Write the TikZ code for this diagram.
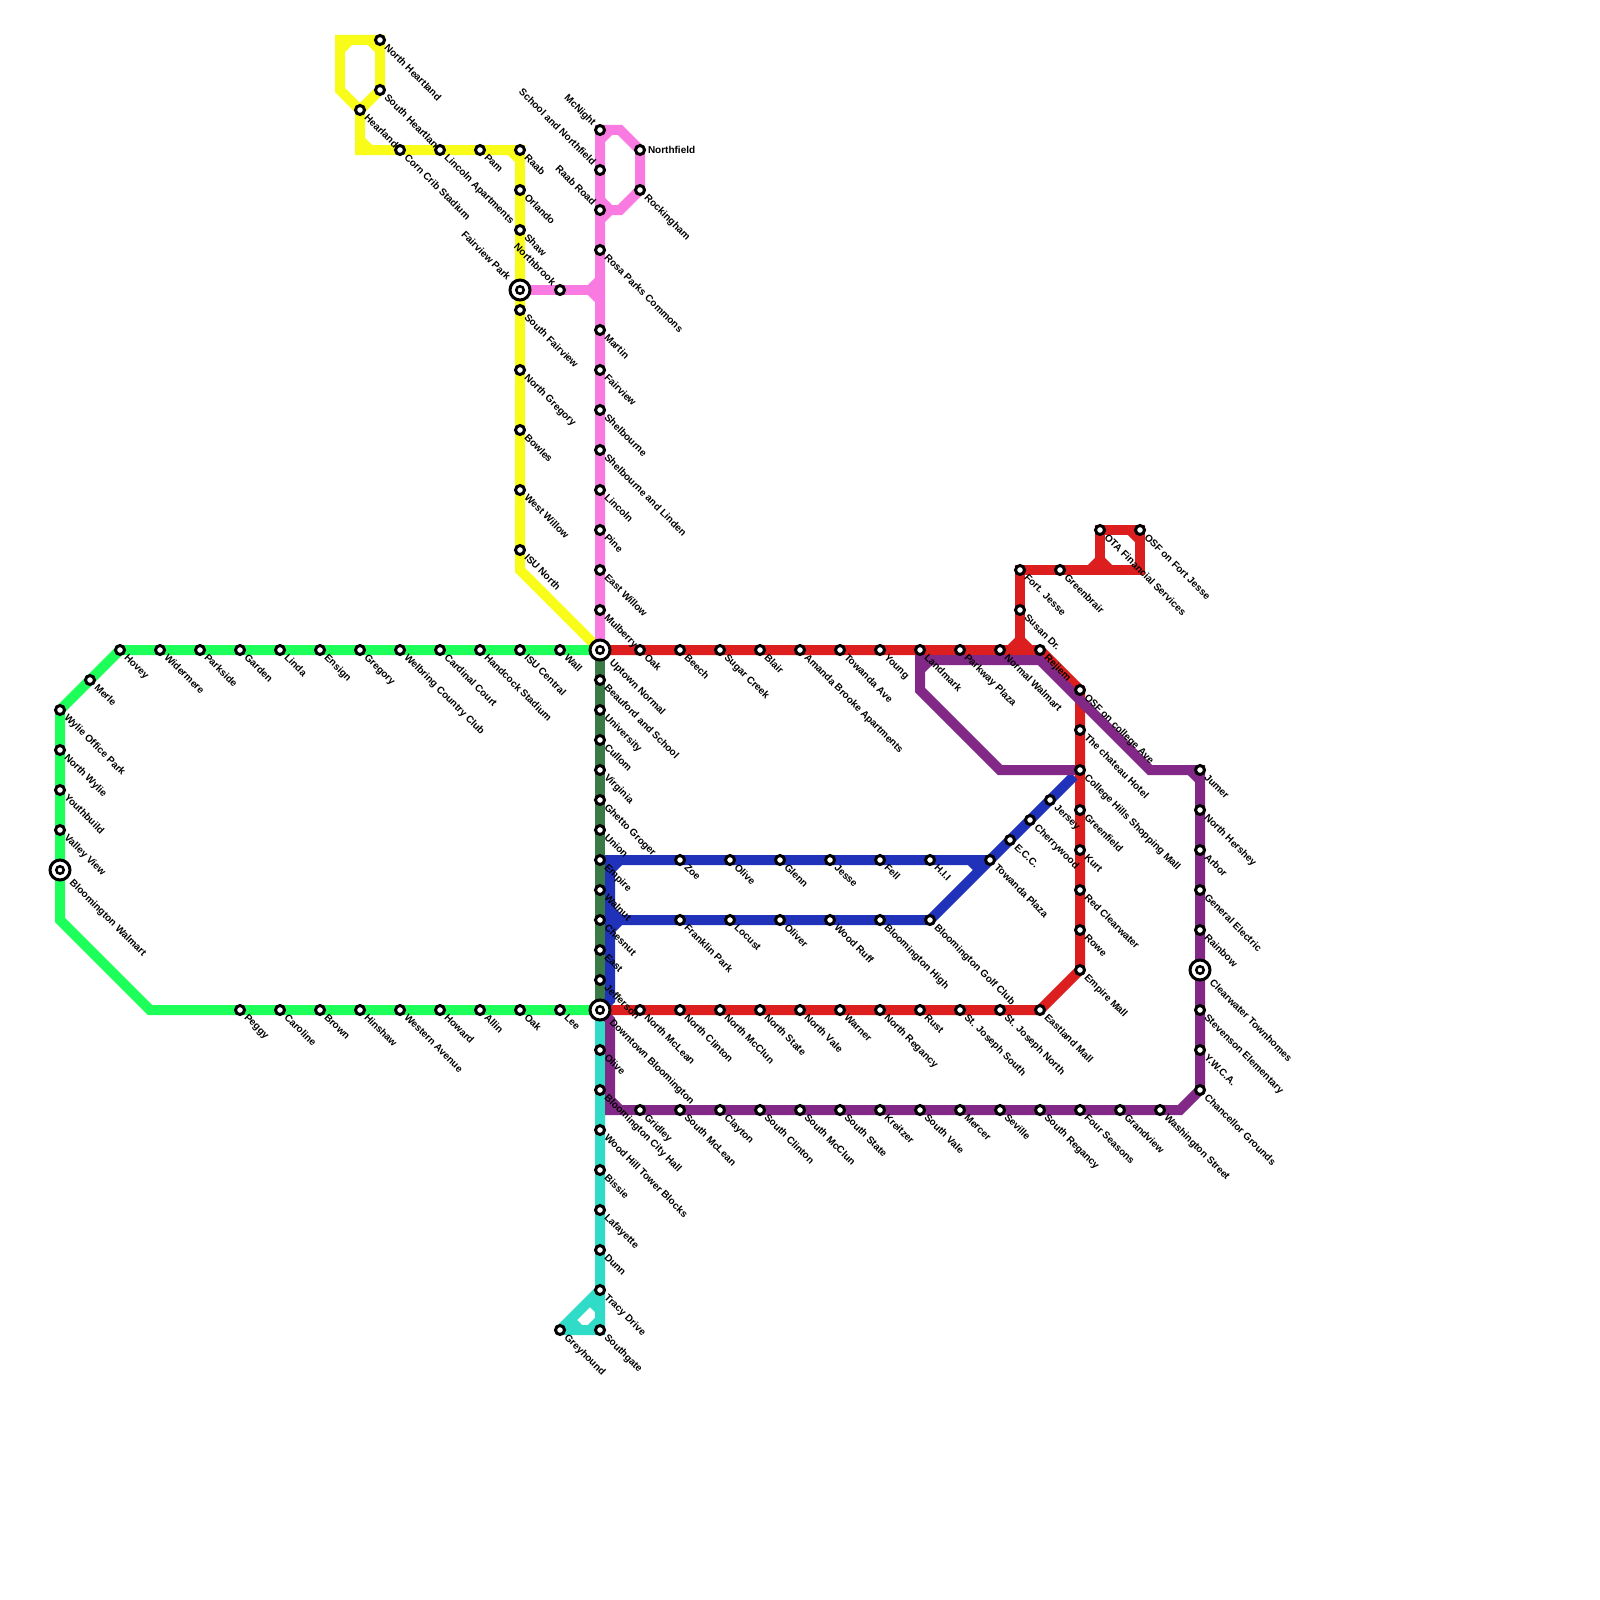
\documentclass[tikz,border=0pt]{standalone}
\usepackage{fontspec}
\setmainfont{Liberation Sans}
\usepackage{xcolor}
\usetikzlibrary{backgrounds}

\definecolor{lineyellow}{RGB}{249,252,24}
\definecolor{linepink}{RGB}{249,122,224}
\definecolor{linegreen}{RGB}{29,255,89}
\definecolor{linedark}{RGB}{58,122,70}
\definecolor{linered}{RGB}{220,30,30}
\definecolor{lineblue}{RGB}{32,50,185}
\definecolor{linepurple}{RGB}{130,40,135}
\definecolor{lineteal}{RGB}{48,220,200}

\tikzset{
  lbl/.style={rotate=-45, anchor=west, inner sep=0pt, outer sep=2.5pt, text height=8pt, text depth=2pt,
    font=\fontsize{10}{10}\selectfont\bfseries},
  hublbl/.style={lbl, outer sep=4.5pt},
  stop/.style={circle, draw=black, fill=white, line width=3pt, minimum size=9pt, inner sep=0pt},
  stn/.style={stop, label={[lbl]-45:#1}},
  stnleft/.style={stop, label={[lbl, anchor=east]135:#1}},
  bigstop/.style={stop, minimum size=20pt, path picture={
    \draw[line width=2.5pt] (path picture bounding box.center) circle (3.75pt);}},
  hub/.style={bigstop, label={[hublbl]-45:#1}},
  hubleft/.style={bigstop, label={[hublbl, anchor=east]135:#1}},
  metro/.style={line width=10pt, miter limit=1.5},
}

\begin{document}
\begin{tikzpicture}[x=1pt, y=-1pt]
        \useasboundingbox (0,0) rectangle (1600,1600);

        % Interchanges
        \node[hub={Uptown Normal}] (uptown) at (600,650) {};
        \node[hub={Downtown Bloomington}] (downtown) at (600,1010) {};
        \node[hub={Bloomington Walmart}] (walmart) at (60,870) {};
        \node[hubleft={Fairview Park}] (fairview) at (520,290) {};
        \node[hub={Clearwater Townhomes}] (clearwater) at (1200,970) {};

        % Green line, upper row
        \node[stn=Hovey] (G1) at (120,650) {};
        \node[stn=Merle] (G2) at (90,680) {};
        \node[stn={Wylie Office Park}] (G3) at (60,710) {};
        \node[stn={North Wylie}] (G4) at (60,750) {};
        \node[stn=Youthbuild] (G5) at (60,790) {};
        \node[stn={Valley View}] (G6) at (60,830) {};
        \node[stn=Widermere] (G7) at (160,650) {};
        \node[stn=Parkside] (G8) at (200,650) {};
        \node[stn=Garden] (G9) at (240,650) {};
        \node[stn=Linda] (G10) at (280,650) {};
        \node[stn=Ensign] (G11) at (320,650) {};
        \node[stn=Gregory] (G12) at (360,650) {};
        \node[stn={Welbring Country Club}] (G13) at (400,650) {};
        \node[stn={Cardinal Court}] (G14) at (440,650) {};
        \node[stn={Handcock Stadium}] (G15) at (480,650) {};
        \node[stn={ISU Central}] (G16) at (520,650) {};
        \node[stn=Wall] (G17) at (560,650) {};

        % Green line, lower row
        \node[stn=Peggy] (G18) at (240,1010) {};
        \node[stn=Caroline] (G19) at (280,1010) {};
        \node[stn=Brown] (G20) at (320,1010) {};
        \node[stn=Hinshaw] (G21) at (360,1010) {};
        \node[stn={Western Avenue}] (G22) at (400,1010) {};
        \node[stn=Howard] (G23) at (440,1010) {};
        \node[stn=Allin] (G24) at (480,1010) {};
        \node[stn=Oak] (G25) at (520,1010) {};
        \node[stn=Lee] (G26) at (560,1010) {};

        % Yellow line
        \node[stn=Hearland] (Y1) at (360,110) {};
        \node[stn={North Heartland}] (Y2) at (380,40) {};
        \node[stn={South Heartland}] (Y3) at (380,90) {};
        \node[stn={Corn Crib Stadium}] (Y4) at (400,150) {};
        \node[stn={Lincoln Apartments}] (Y5) at (440,150) {};
        \node[stn=Pam] (Y6) at (480,150) {};
        \node[stn=Raab] (Y7) at (520,150) {};
        \node[stn=Orlando] (Y8) at (520,190) {};
        \node[stn=Shaw] (Y9) at (520,230) {};
        \node[stn={South Fairview}] (Y10) at (520,310) {};
        \node[stn={North Gregory}] (Y11) at (520,370) {};
        \node[stn=Bowles] (Y12) at (520,430) {};
        \node[stn={West Willow}] (Y13) at (520,490) {};
        \node[stn={ISU North}] (Y14) at (520,550) {};

        % Pink line
        \node[stnleft=McNight] (P1) at (600,130) {};
        \node[stnleft={School and Northfield}] (P2) at (600,170) {};
        \node[stnleft={Raab Road}] (P3) at (600,210) {};
        \node[stop, label={[inner sep=0pt, outer sep=2pt, font=\fontsize{10}{10}\selectfont\bfseries]0:Northfield}] (P4) at (640,150) {};
        \node[stn=Rockingham] (P5) at (640,190) {};
        \node[stn={Rosa Parks Commons}] (P6) at (600,250) {};
        \node[stnleft=Northbrook] (P7) at (560,290) {};
        \node[stn=Martin] (P8) at (600,330) {};
        \node[stn=Fairview] (P9) at (600,370) {};
        \node[stn=Shelbourne] (P10) at (600,410) {};
        \node[stn={Shelbourne and Linden}] (P11) at (600,450) {};
        \node[stn=Lincoln] (P12) at (600,490) {};
        \node[stn=Pine] (P13) at (600,530) {};
        \node[stn={East Willow}] (P14) at (600,570) {};
        \node[stn=Mulberry] (P15) at (600,610) {};

        % Dark green line
        \node[stn={Beauford and School}] (D1) at (600,680) {};
        \node[stn=University] (D2) at (600,710) {};
        \node[stn=Cullom] (D3) at (600,740) {};
        \node[stn=Virginia] (D4) at (600,770) {};
        \node[stn={Ghetto Groger}] (D5) at (600,800) {};
        \node[stn=Union] (D6) at (600,830) {};
        \node[stn=Empire] (D7) at (600,860) {};
        \node[stn=Walnut] (D8) at (600,890) {};
        \node[stn=Chesnut] (D9) at (600,920) {};
        \node[stn=East] (D10) at (600,950) {};
        \node[stn=Jefferson] (D11) at (600,980) {};

        % Red line, upper row
        \node[stn=Oak] (R1) at (640,650) {};
        \node[stn=Beech] (R2) at (680,650) {};
        \node[stn={Sugar Creek}] (R3) at (720,650) {};
        \node[stn=Blair] (R4) at (760,650) {};
        \node[stn={Amanda Brooke Apartments}] (R5) at (800,650) {};
        \node[stn={Towanda Ave}] (R6) at (840,650) {};
        \node[stn=Young] (R7) at (880,650) {};
        \node[stn=Landmark] (R8) at (920,650) {};
        \node[stn={Parkway Plaza}] (R9) at (960,650) {};
        \node[stn={Normal Walmart}] (R10) at (1000,650) {};
        \node[stn=Rejiem] (R11) at (1040,650) {};
        \node[stn={Fort. Jesse}] (R12) at (1020,570) {};
        \node[stn={Susan Dr.}] (R13) at (1020,610) {};
        \node[stn=Greenbrair] (R14) at (1060,570) {};
        \node[stn={OTA Financial Services}] (R15) at (1100,530) {};
        \node[stn={OSF on Fort Jesse}] (R16) at (1140,530) {};
        \node[stn={OSF on college Ave}] (R17) at (1080,690) {};

        % Red line, right side and lower row
        \node[stn={The chateau Hotel}] (R18) at (1080,730) {};
        \node[stn={College Hills Shopping Mall}] (R19) at (1080,770) {};
        \node[stn=Greenfield] (R20) at (1080,810) {};
        \node[stn=Kurt] (R21) at (1080,850) {};
        \node[stn={Red Clearwater}] (R22) at (1080,890) {};
        \node[stn=Rowe] (R23) at (1080,930) {};
        \node[stn={Empire Mall}] (R24) at (1080,970) {};
        \node[stn={Eastland Mall}] (R25) at (1040,1010) {};
        \node[stn={North McLean}] (R26) at (640,1010) {};
        \node[stn={North Clinton}] (R27) at (680,1010) {};
        \node[stn={North McClun}] (R28) at (720,1010) {};
        \node[stn={North State}] (R29) at (760,1010) {};
        \node[stn={North Vale}] (R30) at (800,1010) {};
        \node[stn=Warner] (R31) at (840,1010) {};
        \node[stn={North Regancy}] (R32) at (880,1010) {};
        \node[stn=Rust] (R33) at (920,1010) {};
        \node[stn={St. Joseph South}] (R34) at (960,1010) {};
        \node[stn={St. Joseph North}] (R35) at (1000,1010) {};

        % Blue line
        \node[stn=Zoe] (B1) at (680,860) {};
        \node[stn=Olive] (B2) at (730,860) {};
        \node[stn=Glenn] (B3) at (780,860) {};
        \node[stn=Jesse] (B4) at (830,860) {};
        \node[stn=Fell] (B5) at (880,860) {};
        \node[stn={H.I.I}] (B6) at (930,860) {};
        \node[stn={Towanda Plaza}] (B7) at (990,860) {};
        \node[stn={E.C.C.}] (B8) at (1010,840) {};
        \node[stn=Cherrywood] (B9) at (1030,820) {};
        \node[stn=Jersey] (B10) at (1050,800) {};
        \node[stn={Franklin Park}] (B11) at (680,920) {};
        \node[stn=Locust] (B12) at (730,920) {};
        \node[stn=Oliver] (B13) at (780,920) {};
        \node[stn={Wood Ruff}] (B14) at (830,920) {};
        \node[stn={Bloomington High}] (B15) at (880,920) {};
        \node[stn={Bloomington Golf Club}] (B16) at (930,920) {};

        % Purple line
        \node[stn=Gridley] (V1) at (640,1110) {};
        \node[stn={South McLean}] (V2) at (680,1110) {};
        \node[stn=Clayton] (V3) at (720,1110) {};
        \node[stn={South Clinton}] (V4) at (760,1110) {};
        \node[stn={South McClun}] (V5) at (800,1110) {};
        \node[stn={South State}] (V6) at (840,1110) {};
        \node[stn=Kreitzer] (V7) at (880,1110) {};
        \node[stn={South Vale}] (V8) at (920,1110) {};
        \node[stn=Mercer] (V9) at (960,1110) {};
        \node[stn=Seville] (V10) at (1000,1110) {};
        \node[stn={South Regancy}] (V11) at (1040,1110) {};
        \node[stn={Four Seasons}] (V12) at (1080,1110) {};
        \node[stn=Grandview] (V13) at (1120,1110) {};
        \node[stn={Washington Street}] (V14) at (1160,1110) {};
        \node[stn={Chancellor Grounds}] (V15) at (1200,1090) {};
        \node[stn={Y.W.C.A.}] (V16) at (1200,1050) {};
        \node[stn={Stevenson Elementary}] (V17) at (1200,1010) {};
        \node[stn=Rainbow] (V18) at (1200,930) {};
        \node[stn={General Electric}] (V19) at (1200,890) {};
        \node[stn=Arbor] (V20) at (1200,850) {};
        \node[stn={North Hershey}] (V21) at (1200,810) {};
        \node[stn=Jumer] (V22) at (1200,770) {};

        % Teal line
        \node[stn=Olive] (C1) at (600,1050) {};
        \node[stn={Bloomington City Hall}] (C2) at (600,1090) {};
        \node[stn={Wood Hill Tower Blocks}] (C3) at (600,1130) {};
        \node[stn=Bissie] (C4) at (600,1170) {};
        \node[stn=Lafayette] (C5) at (600,1210) {};
        \node[stn=Dunn] (C6) at (600,1250) {};
        \node[stn={Tracy Drive}] (C7) at (600,1290) {};
        \node[stn=Southgate] (C8) at (600,1330) {};
        \node[stn=Greyhound] (C9) at (560,1330) {};

        % Bends of the lines
        \coordinate (Ga) at (60,920);
        \coordinate (Gb) at (150,1010);
        \coordinate (Ya) at (340,90);
        \coordinate (Yb) at (340,40);
        \coordinate (Yc) at (360,150);
        \coordinate (Yd) at (520,570);
        \coordinate (Pa) at (620,130);
        \coordinate (Pb) at (620,210);
        \coordinate (Pc) at (610,210);
        \coordinate (Pd) at (590,290);
        \coordinate (Ra) at (1020,650);
        \coordinate (Rb) at (1100,570);
        \coordinate (Rc) at (1140,570);
        \coordinate (Ba) at (610,1000);
        \coordinate (Bb) at (610,860);
        \coordinate (Bc) at (620,920);
        \coordinate (Bd) at (970,860);
        \coordinate (Be) at (1074,776);
        \coordinate (Va) at (610,1020);
        \coordinate (Vb) at (610,1110);
        \coordinate (Vc) at (1180,1110);
        \coordinate (Vd) at (1150,770);
        \coordinate (Ve) at (1040,660);
        \coordinate (Vf) at (920,660);
        \coordinate (Vg) at (920,690);
        \coordinate (Vh) at (1000,770);
        \coordinate (Vi) at (1075,770);

        % Draw the lines under the stations
        \begin{scope}[on background layer]
        \draw[metro, lineyellow] (Y1.center) -- (Ya) -- (Yb) -- (Y2.center) -- (Y3.center) -- (Y1.center) -- (Yc) -- (Y7.center) -- (Yd) -- (uptown.center);
        \draw[metro, lineyellow] (Yb) ++(0,10) -- ++(10,-10);
        \draw[metro, lineyellow] (Y2.center) ++(-10,0) -- ++(10,10);
        \draw[metro, lineyellow] (Yc) ++(0,-10) -- ++(10,10);
        \draw[metro, lineyellow] (Y7.center) ++(-10,0) -- ++(10,10);

        \draw[metro, linegreen] (uptown.center) -- (G1.center) -- (G3.center) -- (Ga) -- (Gb) -- (downtown.center);

        \draw[metro, linepink] (uptown.center) -- (P1.center) -- (Pa) -- (P4.center) -- (P5.center) -- (Pb) -- (Pc) -- ++(-10,10);
        \draw[metro, linepink] (Pc) -- ++(-10,-10);
        \draw[metro, linepink] (P1.center) ++(0,10) -- ++(10,-10);
        \draw[metro, linepink] (fairview.center) -- (Pd);
        \draw[metro, linepink] (Pd) ++(10,-10) -- (Pd) -- ++(10,10);

        \draw[metro, linedark] (uptown.center) -- (downtown.center);

        \draw[metro, lineteal] (downtown.center) -- (C8.center) -- (C9.center) -- (C7.center);
        \draw[metro, lineteal] (C7.center) ++(-10,10) -- ++(10,10);
        \draw[metro, lineteal] (C9.center) ++(10,-10) -- ++(10,10);
        \draw[metro, lineteal] (C8.center) ++(-10,0) -- ++(10,-10);

        \draw[metro, linered] (uptown.center) -- (R11.center) -- (R17.center) -- (R24.center) -- (R25.center) -- (downtown.center);
        \draw[metro, linered] (Ra) -- (R12.center) -- (Rc) -- (R16.center) -- (R15.center) -- (Rb);
        \draw[metro, linered] (Ra) ++(-10,0) -- ++(10,-10) -- ++(10,10);
        \draw[metro, linered] (Rb) ++(-10,0) -- ++(10,-10) -- ++(10,10);
        \draw[metro, linered] (R16.center) ++(-10,0) -- ++(10,10);

        \draw[metro, lineblue] (downtown.center) -- (Ba) -- (Bb) -- (B7.center) -- (Be);
        \draw[metro, lineblue] (Bc) -- (B16.center) -- (B7.center);
        \draw[metro, lineblue] (Bb) ++(0,10) -- ++(10,-10);
        \draw[metro, lineblue] (Bc) ++(-10,-10) -- (Bc) -- ++(-10,10);
        \draw[metro, lineblue] (Bd) -- ++(10,10);

        \draw[metro, linepurple] (downtown.center) -- (Va) -- (Vb) -- (Vc) -- (V15.center) -- (V22.center) -- (Vd) -- (Ve) -- (Vf) -- (Vg) -- (Vh) -- (Vi);
        \draw[metro, linepurple] (Vb) ++(0,-10) -- ++(10,10);
        \draw[metro, linepurple] (Vf) ++(0,10) -- ++(10,-10);
        \draw[metro, linepurple] (V22.center) ++(-10,0) -- ++(10,10);
        \end{scope}
\end{tikzpicture}
\end{document}
